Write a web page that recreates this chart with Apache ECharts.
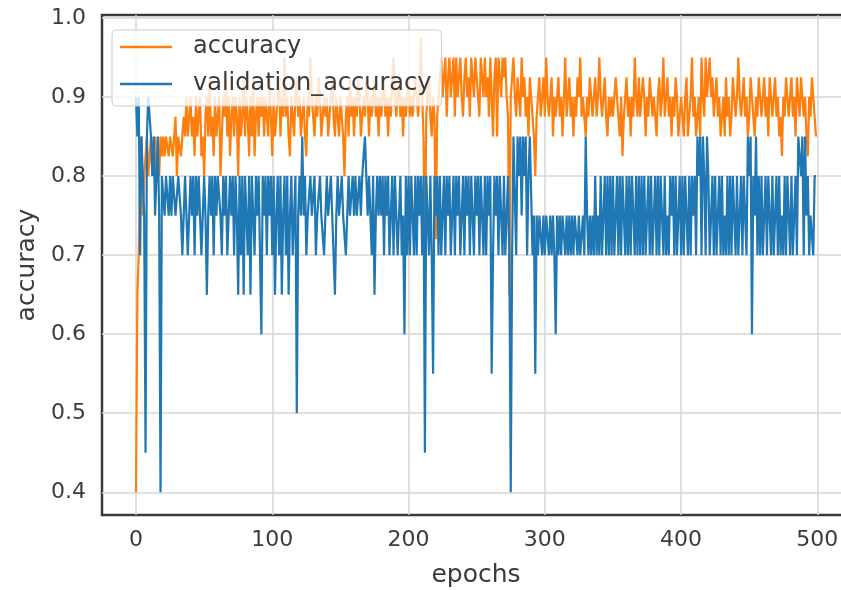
<!DOCTYPE html>
<html>
<head>
<meta charset="utf-8">
<script src="https://cdn.jsdelivr.net/npm/echarts@6/dist/echarts.min.js"></script>
<style>
  html, body { margin: 0; padding: 0; background: #fff; }
  #main { width: 841px; height: 590px; }
</style>
</head>
<body>
<div id="main"></div>
<script>
// training accuracy per epoch (0..499)
const accuracy = [
  0.4, 0.65, 0.7, 0.8, 0.85, 0.75, 0.8, 0.825, 0.85, 0.8,
  0.825, 0.85, 0.8, 0.825, 0.85, 0.8, 0.825, 0.8, 0.85, 0.825,
  0.85, 0.825, 0.85, 0.85, 0.825, 0.85, 0.85, 0.825, 0.85, 0.875,
  0.8, 0.85, 0.85, 0.825, 0.85, 0.875, 0.85, 0.9, 0.85, 0.875,
  0.9, 0.85, 0.875, 0.825, 0.9, 0.85, 0.875, 0.9, 0.825, 0.85,
  0.8, 0.875, 0.9, 0.85, 0.925, 0.85, 0.875, 0.825, 0.9, 0.85,
  0.875, 0.9, 0.8, 0.85, 0.9, 0.875, 0.925, 0.85, 0.9, 0.825,
  0.875, 0.9, 0.85, 0.9, 0.875, 0.8, 0.9, 0.85, 0.875, 0.925,
  0.85, 0.9, 0.875, 0.825, 0.9, 0.85, 0.925, 0.825, 0.875, 0.9,
  0.85, 0.9, 0.875, 0.9, 0.85, 0.9, 0.875, 0.85, 0.925, 0.875,
  0.825, 0.9, 0.85, 0.875, 0.9, 0.925, 0.85, 0.9, 0.875, 0.95,
  0.875, 0.9, 0.85, 0.825, 0.9, 0.875, 0.85, 0.9, 0.925, 0.875,
  0.9, 0.85, 0.875, 0.9, 0.85, 0.825, 0.9, 0.875, 0.95, 0.9,
  0.875, 0.85, 0.9, 0.875, 0.925, 0.9, 0.85, 0.875, 0.9, 0.875,
  0.9, 0.85, 0.875, 0.9, 0.925, 0.875, 0.85, 0.9, 0.875, 0.85,
  0.9, 0.875, 0.85, 0.8, 0.875, 0.9, 0.85, 0.925, 0.875, 0.9,
  0.85, 0.9, 0.875, 0.925, 0.9, 0.85, 0.875, 0.9, 0.875, 0.925,
  0.9, 0.85, 0.9, 0.875, 0.9, 0.925, 0.875, 0.9, 0.85, 0.9,
  0.875, 0.9, 0.925, 0.875, 0.9, 0.85, 0.9, 0.875, 0.925, 0.95,
  0.9, 0.875, 0.9, 0.925, 0.875, 0.9, 0.85, 0.9, 0.875, 0.9,
  0.925, 0.875, 0.9, 0.875, 0.9, 0.925, 0.9, 0.875, 0.9, 0.975,
  0.9, 0.85, 0.7, 0.875, 0.9, 0.925, 0.875, 0.85, 0.9, 0.875,
  0.72, 0.875, 0.9, 0.925, 0.95, 0.9, 0.925, 0.95, 0.875, 0.925,
  0.95, 0.9, 0.925, 0.95, 0.875, 0.95, 0.9, 0.925, 0.95, 0.9,
  0.875, 0.925, 0.95, 0.9, 0.925, 0.875, 0.95, 0.925, 0.9, 0.95,
  0.925, 0.9, 0.875, 0.95, 0.925, 0.9, 0.95, 0.9, 0.925, 0.875,
  0.95, 0.9, 0.85, 0.925, 0.95, 0.85, 0.95, 0.925, 0.9, 0.95,
  0.925, 0.95, 0.9, 0.875, 0.65, 0.9, 0.925, 0.95, 0.9, 0.875,
  0.925, 0.9, 0.875, 0.95, 0.9, 0.925, 0.875, 0.9, 0.85, 0.925,
  0.9, 0.875, 0.85, 0.8, 0.875, 0.9, 0.925, 0.875, 0.9, 0.925,
  0.875, 0.95, 0.9, 0.875, 0.9, 0.925, 0.85, 0.9, 0.875, 0.9,
  0.925, 0.875, 0.9, 0.85, 0.9, 0.95, 0.875, 0.9, 0.925, 0.875,
  0.9, 0.85, 0.9, 0.875, 0.925, 0.9, 0.95, 0.875, 0.9, 0.875,
  0.85, 0.9, 0.875, 0.925, 0.9, 0.875, 0.9, 0.925, 0.875, 0.9,
  0.95, 0.9, 0.875, 0.9, 0.925, 0.875, 0.85, 0.9, 0.875, 0.9,
  0.875, 0.9, 0.925, 0.9, 0.875, 0.85, 0.9, 0.825, 0.875, 0.9,
  0.925, 0.875, 0.9, 0.85, 0.9, 0.875, 0.95, 0.9, 0.875, 0.925,
  0.875, 0.9, 0.925, 0.9, 0.85, 0.9, 0.875, 0.925, 0.9, 0.875,
  0.9, 0.875, 0.85, 0.9, 0.925, 0.875, 0.9, 0.95, 0.875, 0.9,
  0.925, 0.875, 0.9, 0.85, 0.9, 0.875, 0.925, 0.9, 0.85, 0.875,
  0.9, 0.875, 0.85, 0.9, 0.925, 0.85, 0.875, 0.9, 0.95, 0.875,
  0.9, 0.85, 0.875, 0.9, 0.85, 0.95, 0.9, 0.875, 0.95, 0.9,
  0.925, 0.95, 0.9, 0.925, 0.875, 0.9, 0.925, 0.875, 0.9, 0.85,
  0.875, 0.9, 0.85, 0.925, 0.875, 0.9, 0.85, 0.875, 0.925, 0.9,
  0.875, 0.9, 0.95, 0.9, 0.875, 0.9, 0.925, 0.875, 0.9, 0.85,
  0.875, 0.925, 0.9, 0.875, 0.85, 0.9, 0.875, 0.925, 0.9, 0.875,
  0.9, 0.925, 0.875, 0.9, 0.85, 0.925, 0.9, 0.875, 0.9, 0.925,
  0.875, 0.9, 0.85, 0.875, 0.825, 0.9, 0.875, 0.925, 0.9, 0.875,
  0.9, 0.925, 0.875, 0.9, 0.85, 0.925, 0.9, 0.875, 0.925, 0.9,
  0.875, 0.9, 0.85, 0.825, 0.9, 0.875, 0.925, 0.9, 0.875, 0.85
];

// validation accuracy per epoch (0..499)
const validationAccuracy = [
  0.9, 0.85, 0.9, 0.7, 0.85, 0.8, 0.75, 0.45, 0.85, 0.9,
  0.9, 0.85, 0.8, 0.85, 0.75, 0.8, 0.85, 0.75, 0.4, 0.8,
  0.8, 0.75, 0.8, 0.8, 0.75, 0.8, 0.75, 0.8, 0.8, 0.75,
  0.75, 0.8, 0.8, 0.75, 0.7, 0.75, 0.8, 0.8, 0.7, 0.75,
  0.8, 0.75, 0.8, 0.7, 0.8, 0.75, 0.8, 0.8, 0.7, 0.75,
  0.8, 0.75, 0.65, 0.75, 0.8, 0.75, 0.8, 0.7, 0.8, 0.75,
  0.8, 0.8, 0.75, 0.7, 0.8, 0.75, 0.8, 0.7, 0.75, 0.8,
  0.75, 0.8, 0.7, 0.8, 0.75, 0.65, 0.8, 0.7, 0.8, 0.65,
  0.8, 0.75, 0.7, 0.8, 0.65, 0.8, 0.75, 0.7, 0.8, 0.75,
  0.8, 0.7, 0.6, 0.8, 0.75, 0.8, 0.7, 0.8, 0.75, 0.8,
  0.7, 0.8, 0.65, 0.75, 0.8, 0.7, 0.8, 0.65, 0.75, 0.8,
  0.7, 0.8, 0.65, 0.75, 0.8, 0.7, 0.75, 0.8, 0.5, 0.75,
  0.8, 0.75, 0.85, 0.75, 0.8, 0.7, 0.75, 0.75, 0.8, 0.75,
  0.75, 0.8, 0.7, 0.75, 0.75, 0.8, 0.75, 0.75, 0.7, 0.75,
  0.8, 0.75, 0.75, 0.8, 0.75, 0.7, 0.65, 0.75, 0.8, 0.75,
  0.75, 0.8, 0.75, 0.75, 0.7, 0.75, 0.8, 0.75, 0.75, 0.8,
  0.75, 0.8, 0.75, 0.75, 0.8, 0.75, 0.8, 0.8, 0.85, 0.8,
  0.75, 0.8, 0.75, 0.7, 0.8, 0.65, 0.75, 0.8, 0.75, 0.8,
  0.75, 0.8, 0.7, 0.8, 0.75, 0.8, 0.7, 0.75, 0.8, 0.7,
  0.8, 0.75, 0.7, 0.75, 0.8, 0.7, 0.75, 0.6, 0.8, 0.7,
  0.8, 0.7, 0.8, 0.75, 0.7, 0.8, 0.7, 0.8, 0.75, 0.8,
  0.7, 0.8, 0.45, 0.8, 0.75, 0.7, 0.8, 0.7, 0.55, 0.8,
  0.75, 0.8, 0.7, 0.8, 0.7, 0.75, 0.8, 0.7, 0.8, 0.75,
  0.8, 0.7, 0.75, 0.8, 0.7, 0.8, 0.75, 0.8, 0.7, 0.75,
  0.8, 0.7, 0.8, 0.75, 0.8, 0.7, 0.8, 0.75, 0.7, 0.8,
  0.75, 0.8, 0.7, 0.8, 0.75, 0.7, 0.8, 0.7, 0.8, 0.75,
  0.8, 0.55, 0.7, 0.8, 0.75, 0.8, 0.7, 0.8, 0.8, 0.7,
  0.8, 0.7, 0.75, 0.8, 0.7, 0.4, 0.7, 0.85, 0.85, 0.7,
  0.85, 0.8, 0.85, 0.75, 0.85, 0.8, 0.85, 0.7, 0.8, 0.85,
  0.85, 0.7, 0.75, 0.55, 0.75, 0.7, 0.75, 0.75, 0.7, 0.75,
  0.7, 0.75, 0.75, 0.7, 0.75, 0.7, 0.75, 0.7, 0.6, 0.75,
  0.7, 0.75, 0.7, 0.75, 0.75, 0.7, 0.75, 0.7, 0.75, 0.7,
  0.75, 0.7, 0.75, 0.75, 0.7, 0.75, 0.7, 0.7, 0.75, 0.7,
  0.85, 0.75, 0.7, 0.75, 0.7, 0.75, 0.7, 0.8, 0.7, 0.75,
  0.7, 0.8, 0.7, 0.75, 0.8, 0.7, 0.8, 0.7, 0.8, 0.7,
  0.8, 0.7, 0.75, 0.8, 0.7, 0.8, 0.7, 0.8, 0.75, 0.7,
  0.8, 0.7, 0.8, 0.7, 0.8, 0.75, 0.7, 0.8, 0.7, 0.8,
  0.7, 0.8, 0.7, 0.8, 0.7, 0.75, 0.8, 0.7, 0.8, 0.7,
  0.75, 0.8, 0.7, 0.8, 0.7, 0.8, 0.75, 0.7, 0.8, 0.7,
  0.75, 0.7, 0.8, 0.75, 0.8, 0.7, 0.8, 0.7, 0.75, 0.8,
  0.7, 0.8, 0.7, 0.8, 0.75, 0.7, 0.8, 0.7, 0.8, 0.75,
  0.8, 0.7, 0.85, 0.8, 0.85, 0.7, 0.85, 0.8, 0.7, 0.85,
  0.8, 0.7, 0.75, 0.8, 0.7, 0.8, 0.7, 0.75, 0.8, 0.7,
  0.8, 0.7, 0.75, 0.7, 0.8, 0.7, 0.8, 0.7, 0.8, 0.75,
  0.7, 0.8, 0.7, 0.75, 0.8, 0.7, 0.8, 0.75, 0.7, 0.85,
  0.8, 0.85, 0.6, 0.8, 0.75, 0.85, 0.7, 0.8, 0.7, 0.8,
  0.7, 0.75, 0.8, 0.7, 0.8, 0.75, 0.7, 0.8, 0.7, 0.75,
  0.8, 0.7, 0.8, 0.7, 0.75, 0.7, 0.8, 0.7, 0.8, 0.75,
  0.7, 0.8, 0.7, 0.75, 0.8, 0.7, 0.85, 0.85, 0.8, 0.85,
  0.7, 0.85, 0.75, 0.8, 0.7, 0.75, 0.75, 0.7, 0.8, 0.8
];

const xTicks = [0, 100, 200, 300, 400, 500];
const yTicks = [0.4, 0.5, 0.6, 0.7, 0.8, 0.9, 1.0];

const chart = echarts.init(document.getElementById("main"));
const font = "DejaVu Sans";
const textColor = "#3b3b3b";

const toPoints = (arr) => arr.map((v, i) => [i, v]);

const option = {
    animation: false,
    backgroundColor: "#fff",
    textStyle: { fontFamily: font },
    grid: {
        left: 102, top: 15, width: 748, height: 500,
        outerBoundsMode: "none",
        show: true, borderColor: "#3a3a3a", borderWidth: 2.5,
    },
    legend: {
        left: 112, top: 30,
        orient: "vertical",
        icon: "rect",
        itemWidth: 52, itemHeight: 2.5, itemGap: 13,
        padding: [5, 10, 10, 8],
        backgroundColor: "rgba(255,255,255,0.8)",
        borderColor: "#cccccc", borderWidth: 1, borderRadius: 4,
        textStyle: { fontFamily: font, fontSize: 24, lineHeight: 24, color: textColor, padding: [0, 0, 0, 16] },
        data: ["accuracy", "validation_accuracy"],
    },
    xAxis: {
        type: "value",
        min: -24.95, max: 523.95,
        name: "epochs", nameLocation: "middle", nameGap: 48,
        nameTextStyle: { fontFamily: font, fontSize: 25, color: textColor },
        axisLine: { show: false },
        axisTick: { show: false, customValues: xTicks },
        axisLabel: { customValues: xTicks, margin: 14, fontFamily: font, fontSize: 22, color: textColor },
        splitLine: { show: true, lineStyle: { color: "#d6d6d6", width: 1.5 } },
    },
    yAxis: {
        type: "value",
        min: 0.37125, max: 1.00375,
        name: "accuracy", nameLocation: "middle", nameGap: 62,
        nameTextStyle: { fontFamily: font, fontSize: 25, color: textColor },
        axisLine: { show: false },
        axisTick: { show: false, customValues: yTicks },
        axisLabel: {
            customValues: yTicks, margin: 16, fontFamily: font, fontSize: 22, color: textColor,
            formatter: (v) => v.toFixed(1),
        },
        splitLine: { show: true, lineStyle: { color: "#d6d6d6", width: 1.5 } },
    },
    series: [
        {
            name: "accuracy", type: "line", symbol: "none",
            data: toPoints(accuracy),
            lineStyle: { color: "#ff7f0e", width: 2.2 },
            itemStyle: { color: "#ff7f0e" },
        },
        {
            name: "validation_accuracy", type: "line", symbol: "none",
            data: toPoints(validationAccuracy),
            lineStyle: { color: "#1f77b4", width: 2.2 },
            itemStyle: { color: "#1f77b4" },
        },
    ],
};

chart.setOption(option);
</script>
</body>
</html>
